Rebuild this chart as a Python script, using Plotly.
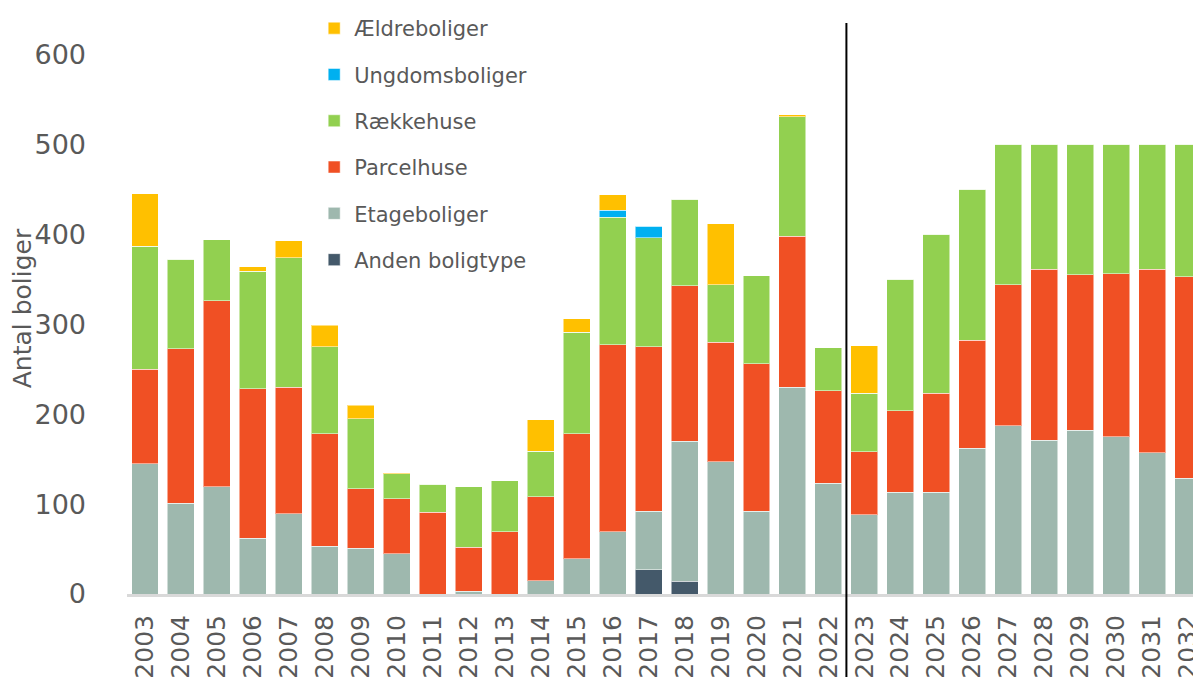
import plotly.graph_objects as go

years = [str(y) for y in range(2003, 2033)]

anden = [0, 0, 0, 0, 0, 0, 0, 0, 0, 0, 0, 0, 0, 0, 27, 14, 0, 0, 0, 0,
         0, 0, 0, 0, 0, 0, 0, 0, 0, 0]
etage = [145, 101, 119, 62, 89, 53, 51, 45, 0, 3, 0, 15, 39, 69, 65, 156, 147, 92, 230, 123,
         88, 113, 113, 162, 187, 171, 182, 175, 157, 129]
parcel = [105, 172, 207, 166, 141, 125, 66, 61, 91, 49, 69, 93, 139, 208, 183, 173, 133, 164, 168, 103,
          70, 91, 110, 120, 157, 190, 173, 181, 204, 224]
raekke = [137, 99, 68, 131, 144, 97, 78, 28, 31, 67, 57, 51, 113, 142, 121, 96, 64, 98, 133, 48,
          65, 146, 177, 168, 156, 139, 145, 144, 139, 147]
ungdom = [0, 0, 0, 0, 0, 0, 0, 0, 0, 0, 0, 0, 0, 8, 13, 0, 0, 0, 0, 0,
          0, 0, 0, 0, 0, 0, 0, 0, 0, 0]
aeldre = [58, 0, 0, 5, 19, 24, 15, 1, 0, 0, 0, 35, 15, 17, 0, 0, 68, 0, 2, 0,
          53, 0, 0, 0, 0, 0, 0, 0, 0, 0]

series = [
    ("Anden boligtype", anden, "#44596A"),
    ("Etageboliger", etage, "#9EB8AE"),
    ("Parcelhuse", parcel, "#F05024"),
    ("Rækkehuse", raekke, "#92D050"),
    ("Ungdomsboliger", ungdom, "#00B0F0"),
    ("Ældreboliger", aeldre, "#FFC000"),
]

grey = "#595959"
font = "DejaVu Sans"

fig = go.Figure()
for i, (name, vals, col) in enumerate(series):
    fig.add_trace(go.Bar(
        x=years, y=vals, name=name, legendgroup=name, legendrank=len(series) - i,
        marker=dict(color=col, line=dict(color="rgba(255,255,255,0.5)", width=1)),
    ))

# split between historic and projected years
fig.add_shape(type="line", xref="x", yref="paper", x0=19.5, x1=19.5, y0=-0.2, y1=1.0,
              line=dict(color="black", width=2))

fig.update_layout(
    width=1201, height=677,
    barmode="stack", bargap=0.25,
    plot_bgcolor="white", paper_bgcolor="white",
    margin=dict(l=119, r=0, t=14, b=91),
    font=dict(family=font, color=grey),
    legend=dict(
        x=0.173, y=1.026, xanchor="left", yanchor="top",
        traceorder="grouped", tracegroupgap=16,
        font=dict(size=21, color=grey), bgcolor="rgba(0,0,0,0)",
    ),
)
fig.update_xaxes(
    type="category", range=[-0.5, 29.58], showgrid=False,
    showline=True, linecolor="#D9D9D9", linewidth=3,
    tickangle=-90, tickfont=dict(size=25, color=grey),
    ticks="", ticklabelstandoff=8, automargin=False,
)
fig.update_yaxes(
    range=[0, 635], tickvals=[0, 100, 200, 300, 400, 500, 600],
    showgrid=False, zeroline=False, showline=False,
    tickfont=dict(size=27, color=grey), ticks="", ticklabelstandoff=40,
    title=dict(text="Antal boliger", font=dict(size=25, color=grey), standoff=10),
    automargin=False,
)

fig.write_html("out.html")
